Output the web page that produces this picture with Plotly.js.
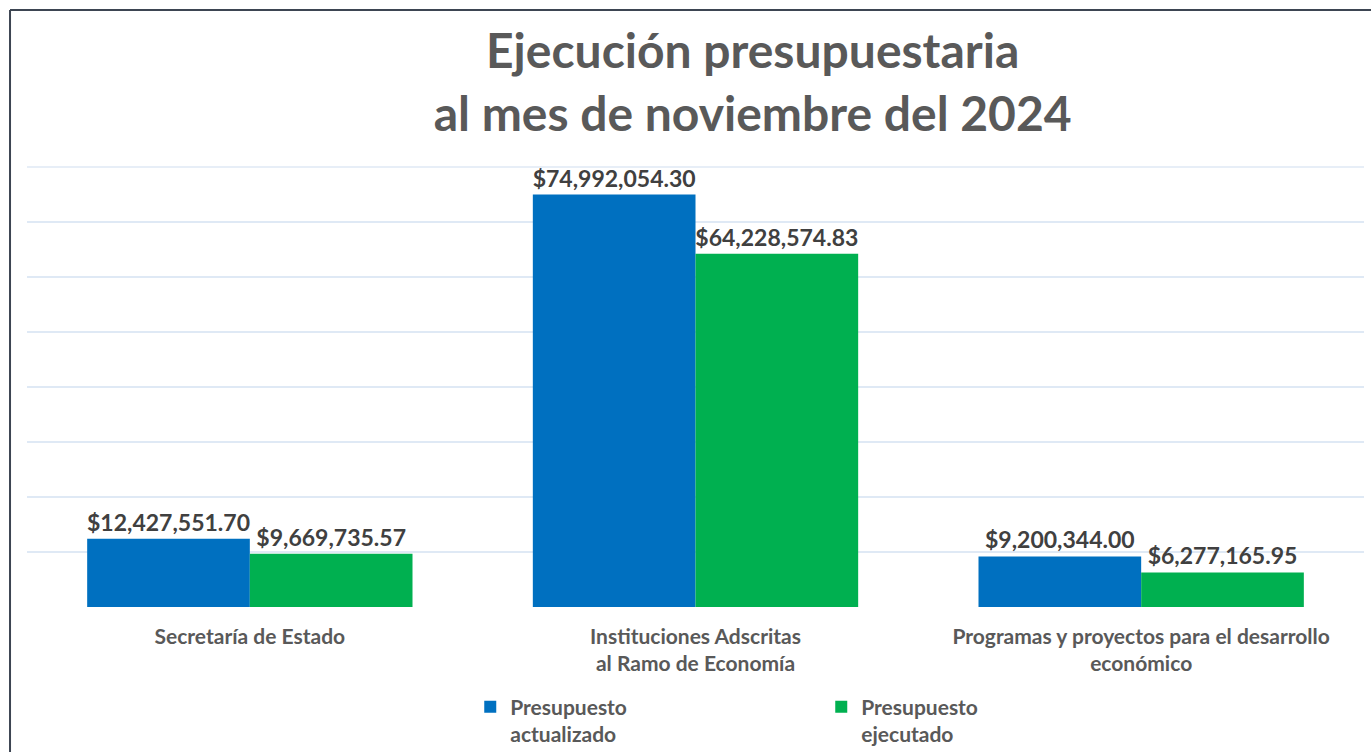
<!DOCTYPE html>
<html>
<head>
<meta charset="utf-8">
<script src="https://cdn.plot.ly/plotly-3.0.1.min.js"></script>
<style>
  body { margin: 0; background: #fff; }
  #chart { width: 1371px; height: 752px; }
</style>
</head>
<body>
<div id="chart"></div>
<script>
  let categories = [
    "Secretaría de Estado",
    "Instituciones Adscritas<br>al Ramo de Economía",
    "Programas y proyectos para el desarrollo<br>económico"
  ];
  let presupuestoActualizado = [12427551.70, 74992054.30, 9200344.00];
  let presupuestoEjecutado = [9669735.57, 64228574.83, 6277165.95];
  let seriesNames = ["Presupuesto<br>actualizado", "Presupuesto<br>ejecutado"];

  function drawChart() {
    let labelFont = { family: "Lato, sans-serif", size: 23, color: "#404040", weight: "bold" };

    let trace1 = {
      x: categories,
      y: presupuestoActualizado,
      name: seriesNames[0],
      type: "bar",
      marker: { color: "#0070C0" },
      texttemplate: "$%{y:,.2f}",
      textposition: "outside",
      constraintext: "none",
      cliponaxis: false,
      textfont: labelFont
    };

    let trace2 = {
      x: categories,
      y: presupuestoEjecutado,
      name: seriesNames[1],
      type: "bar",
      marker: { color: "#00B050" },
      texttemplate: "$%{y:,.2f}",
      textposition: "outside",
      constraintext: "none",
      cliponaxis: false,
      textfont: labelFont
    };

    let gridColor = "#dfe9f5";

    let layout = {
      width: 1371,
      height: 752,
      margin: { l: 27, r: 7, t: 167, b: 145 },
      paper_bgcolor: "#ffffff",
      plot_bgcolor: "#ffffff",
      font: { family: "Lato, sans-serif", color: "#595959" },
      title: {
        text: "Ejecución presupuestaria<br>al mes de noviembre del 2024",
        font: { family: "Lato, sans-serif", size: 48, color: "#595959", weight: "bold" },
        xref: "container",
        x: 0.549,
        xanchor: "center",
        yref: "container",
        y: 0.909,
        yanchor: "middle"
      },
      barmode: "group",
      bargap: 0.27,
      bargroupgap: 0,
      xaxis: {
        tickfont: { size: 21, color: "#595959", weight: "bold" },
        showline: false,
        ticks: "",
        ticklabelstandoff: 15
      },
      yaxis: {
        range: [0, 80000000],
        dtick: 10000000,
        showticklabels: false,
        showgrid: true,
        gridcolor: gridColor,
        gridwidth: 1.5,
        zeroline: false,
        fixedrange: true
      },
      showlegend: true,
      legend: {
        orientation: "h",
        xref: "container",
        x: 0.343,
        xanchor: "left",
        yref: "container",
        y: 0.087,
        yanchor: "top",
        valign: "top",
        entrywidth: 306,
        font: { size: 21, color: "#595959", weight: "bold" }
      },
      shapes: [
        { type: "line", xref: "paper", yref: "paper", x0: 0, x1: 1, y0: 1, y1: 1, line: { color: gridColor, width: 1.5 }, layer: "below" },
        { type: "line", xref: "paper", yref: "paper", x0: -0.0127, x1: -0.0127, y0: 1.357, y1: -0.4, line: { color: "#3d4552", width: 2 } },
        { type: "line", xref: "paper", yref: "paper", x0: -0.0127, x1: 1.01, y0: 1.357, y1: 1.357, line: { color: "#3d4552", width: 2 } }
      ]
    };

    Plotly.newPlot("chart", [trace1, trace2], layout, { displayModeBar: false, staticPlot: true });
  }

  drawChart();
</script>
</body>
</html>
